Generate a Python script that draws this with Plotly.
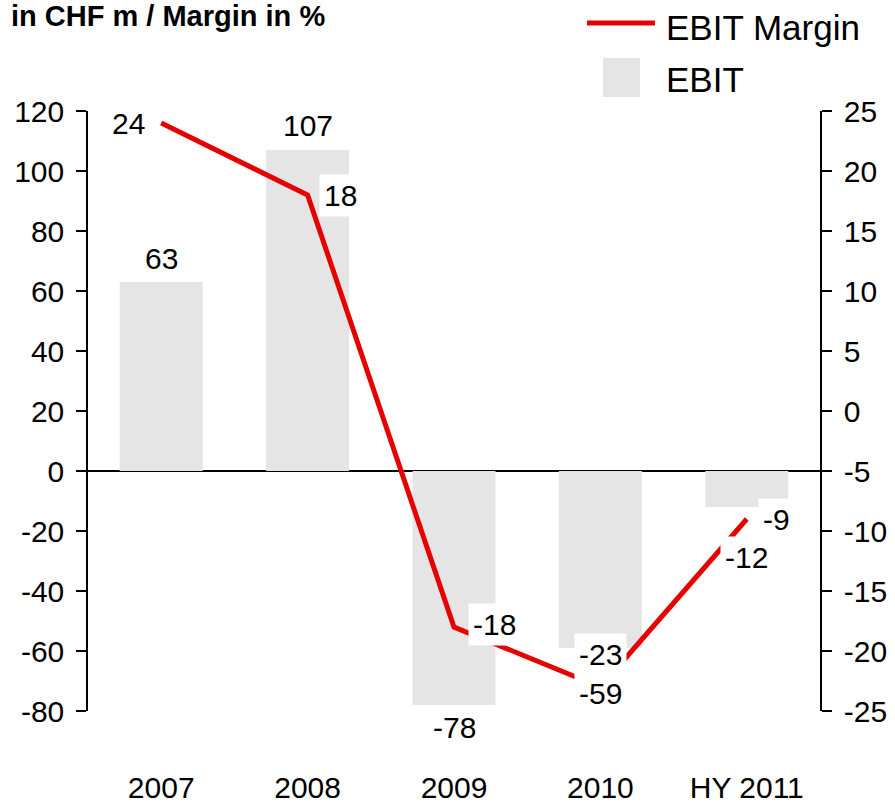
import plotly.graph_objects as go

# Chart data
categories = ["2007", "2008", "2009", "2010", "HY 2011"]
ebit = [63, 107, -78, -59, -12]              # CHF m, left axis
ebit_margin = [24, 18, -18, -23, -9]         # %, right axis

left_ticks = list(range(-80, 121, 20))
right_ticks = list(range(-25, 26, 5))

# Label offsets (pixels) relative to each mark
bar_label_shift = [24, 25, -22, -45, -50]
margin_label_xshift = [-33, 33, 40, 0, 30]
margin_label_yshift = [0, 0, 3, 33, 0]

FONT = "Liberation Sans, Arial, Helvetica, sans-serif"
RED = "#e60000"
GREY = "#e5e5e5"

W, H = 895, 803
L, R, T, B = 88, 75, 111, 92
PW, PH = W - L - R, H - T - B


def px_x(px):
    return (px - L) / PW


def px_y(py):
    return (T + PH - py) / PH


fig = go.Figure()

fig.add_trace(go.Bar(
    x=categories, y=ebit, name="EBIT",
    marker=dict(color=GREY, line=dict(width=0)),
    width=0.567, yaxis="y", showlegend=False,
))

fig.add_trace(go.Scatter(
    x=categories, y=ebit_margin, name="EBIT Margin",
    mode="lines", line=dict(color=RED, width=5),
    yaxis="y2", showlegend=False,
))

# Value labels; on a category axis annotations are placed by category index
annotations = []
for i, (v, s) in enumerate(zip(ebit, bar_label_shift)):
    annotations.append(dict(
        x=i, y=v, xref="x", yref="y", text=str(v), showarrow=False,
        yshift=s, font=dict(family=FONT, size=30, color="black"),
        bgcolor="white", borderpad=4,
    ))
for i, (v, xs, ys) in enumerate(zip(ebit_margin, margin_label_xshift, margin_label_yshift)):
    annotations.append(dict(
        x=i, y=v, xref="x", yref="y2", text=str(v), showarrow=False,
        xshift=xs, yshift=ys, font=dict(family=FONT, size=30, color="black"),
        bgcolor="white", borderpad=4,
    ))

# Unit caption
annotations.append(dict(
    x=px_x(9), y=px_y(16), xref="paper", yref="paper",
    text="<b>in CHF m / Margin in %</b>", showarrow=False,
    xanchor="left", yanchor="middle",
    font=dict(family=FONT, size=29, color="black"),
))

# Legend entries
annotations.append(dict(
    x=px_x(664), y=px_y(27), xref="paper", yref="paper",
    text="EBIT Margin", showarrow=False, xanchor="left", yanchor="middle",
    font=dict(family=FONT, size=35, color="black"),
))
annotations.append(dict(
    x=px_x(664), y=px_y(80), xref="paper", yref="paper",
    text="EBIT", showarrow=False, xanchor="left", yanchor="middle",
    font=dict(family=FONT, size=35, color="black"),
))

shapes = [
    dict(type="line", xref="paper", yref="paper",
         x0=px_x(587), x1=px_x(655), y0=px_y(23), y1=px_y(23),
         line=dict(color=RED, width=5)),
    dict(type="rect", xref="paper", yref="paper",
         x0=px_x(603), x1=px_x(640), y0=px_y(97), y1=px_y(58),
         fillcolor=GREY, line=dict(width=0)),
]

axis_font = dict(family=FONT, size=30, color="black")

fig.update_layout(
    width=W, height=H,
    margin=dict(l=L, r=R, t=T, b=B, pad=0),
    paper_bgcolor="white", plot_bgcolor="white",
    xaxis=dict(
        type="category", automargin=False, range=[-0.5, len(categories) - 0.5],
        showline=False, showgrid=False, zeroline=False, ticks="",
        tickfont=dict(family=FONT, size=30, color="black"),
        ticklabelstandoff=56,
    ),
    yaxis=dict(
        range=[-80, 120], tickvals=left_ticks,
        ticktext=[str(v) for v in left_ticks], automargin=False,
        showgrid=False, showline=True, linecolor="black", linewidth=1.5,
        ticks="outside", ticklen=10, tickwidth=1.5, tickcolor="black",
        zeroline=True, zerolinecolor="black", zerolinewidth=1.5,
        tickfont=axis_font, ticklabelstandoff=6, layer="above traces",
    ),
    yaxis2=dict(
        range=[-25, 25], tickvals=right_ticks,
        ticktext=[str(v) for v in right_ticks], automargin=False,
        overlaying="y", side="right",
        showgrid=False, showline=True, linecolor="black", linewidth=1.5,
        ticks="outside", ticklen=10, tickwidth=1.5, tickcolor="black",
        zeroline=False, tickfont=axis_font, ticklabelstandoff=6,
    ),
    annotations=annotations,
    shapes=shapes,
    showlegend=False,
)

fig.write_html("out.html")
